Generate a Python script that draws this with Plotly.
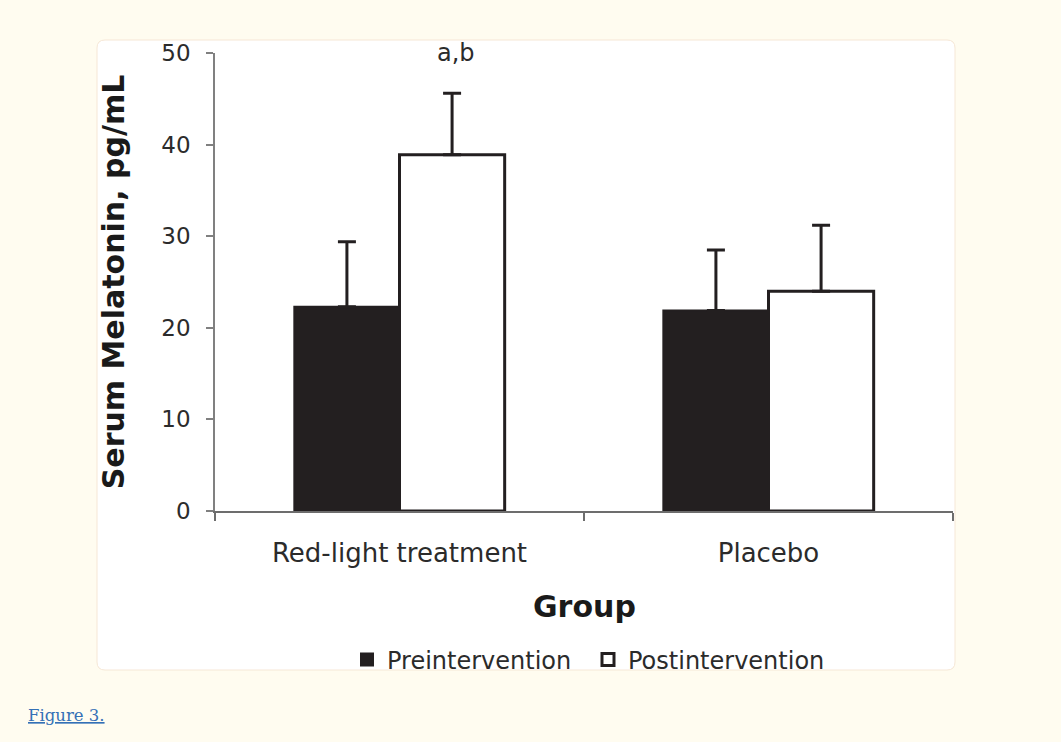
import plotly.graph_objects as go

# ---- data ----
groups = ["Red-light treatment", "Placebo"]
pre_values = [22.3, 21.9]
pre_errors = [7.1, 6.6]
post_values = [38.9, 24.0]
post_errors = [6.7, 7.2]
series_names = ["Preintervention", "Postintervention"]
y_ticks = [0, 10, 20, 30, 40, 50]

# ---- layout geometry (pixels) ----
W, H = 1061, 742
L, R, T, B = 215, 108, 53, 231
pw, ph = W - L - R, H - T - B

def px_x(x):
    return (x - L) / pw

def px_y(y):
    return (H - B - y) / ph

BAR_DARK = "#231f20"
FONT = "DejaVu Sans"
BG = "#fffcf0"

fig = go.Figure()
fig.add_trace(go.Bar(
    x=groups, y=pre_values, name=series_names[0],
    marker=dict(color=BAR_DARK, line=dict(color=BAR_DARK, width=2)),
    error_y=dict(type="data", array=pre_errors, arrayminus=[0] * len(pre_errors),
                 symmetric=False, color=BAR_DARK, thickness=3, width=9),
))
fig.add_trace(go.Bar(
    x=groups, y=post_values, name=series_names[1],
    marker=dict(color="white", line=dict(color=BAR_DARK, width=3)),
    error_y=dict(type="data", array=post_errors, arrayminus=[0] * len(post_errors),
                 symmetric=False, color=BAR_DARK, thickness=3, width=9),
))

# white rounded panel
x0, x1 = px_x(97), px_x(955)
y0, y1 = px_y(670), px_y(40)
rx, ry = 8 / pw, 8 / ph
path = (f"M {x0+rx},{y1} L {x1-rx},{y1} Q {x1},{y1} {x1},{y1-ry} "
        f"L {x1},{y0+ry} Q {x1},{y0} {x1-rx},{y0} L {x0+rx},{y0} "
        f"Q {x0},{y0} {x0},{y0+ry} L {x0},{y1-ry} Q {x0},{y1} {x0+rx},{y1} Z")

fig.update_layout(
    width=W, height=H,
    margin=dict(l=L, r=R, t=T, b=B, pad=0),
    paper_bgcolor=BG,
    plot_bgcolor="rgba(0,0,0,0)",
    barmode="group", bargap=0.43, bargroupgap=0,
    font=dict(family=FONT, color="#2b2b2b"),
    showlegend=True,
    legend=dict(orientation="h", x=px_x(347), y=px_y(660), xanchor="left", yanchor="middle",
                font=dict(size=24, color="#2b2b2b", family=FONT),
                bgcolor="rgba(0,0,0,0)", traceorder="normal", itemwidth=30,
                entrywidth=196, entrywidthmode="pixels"),
    shapes=[dict(type="path", path=path, xref="paper", yref="paper",
                 fillcolor="white", line=dict(color="#f6e7d6", width=1), layer="below")],
    annotations=[
        dict(text="a,b", x=groups[0], y=50, xref="x", yref="y", xshift=56,
             showarrow=False, yanchor="middle", font=dict(size=24, color="#2b2b2b", family=FONT)),
        dict(text="<span style='text-decoration:underline'>Figure 3.</span>",
             x=px_x(26), y=px_y(715), xref="paper", yref="paper", xanchor="left", yanchor="middle",
             showarrow=False, font=dict(size=16.5, color="#3470b6", family="DejaVu Serif")),
        dict(text="<b>Group</b>", x=0.5, y=px_y(606), xref="paper", yref="paper",
             showarrow=False, yanchor="middle", font=dict(size=30, color="#1a1a1a", family=FONT)),
    ],
)

fig.update_yaxes(
    range=[0, 50], tickvals=y_ticks, showgrid=False, zeroline=False,
    showline=True, linecolor="#808080", linewidth=1.5,
    ticks="outside", ticklen=7, tickcolor="#808080", tickwidth=1.5,
    ticklabelstandoff=11,
    tickfont=dict(size=23, color="#2b2b2b", family=FONT),
    title=dict(text="<b>Serum Melatonin, pg/mL</b>", standoff=28,
               font=dict(size=30, color="#1a1a1a", family=FONT)),
)
fig.update_xaxes(
    showgrid=False, showline=True, linecolor="#6d6d6d", linewidth=1.5,
    ticks="outside", tickson="boundaries", ticklen=8, tickcolor="#6d6d6d", tickwidth=1.5,
    ticklabelstandoff=18,
    tickfont=dict(size=26, color="#2b2b2b", family=FONT),
)

fig.write_html(
    "out.html",
    config={"displayModeBar": False},
    post_script=f"document.body.style.margin='0px';document.body.style.background='{BG}';",
)
